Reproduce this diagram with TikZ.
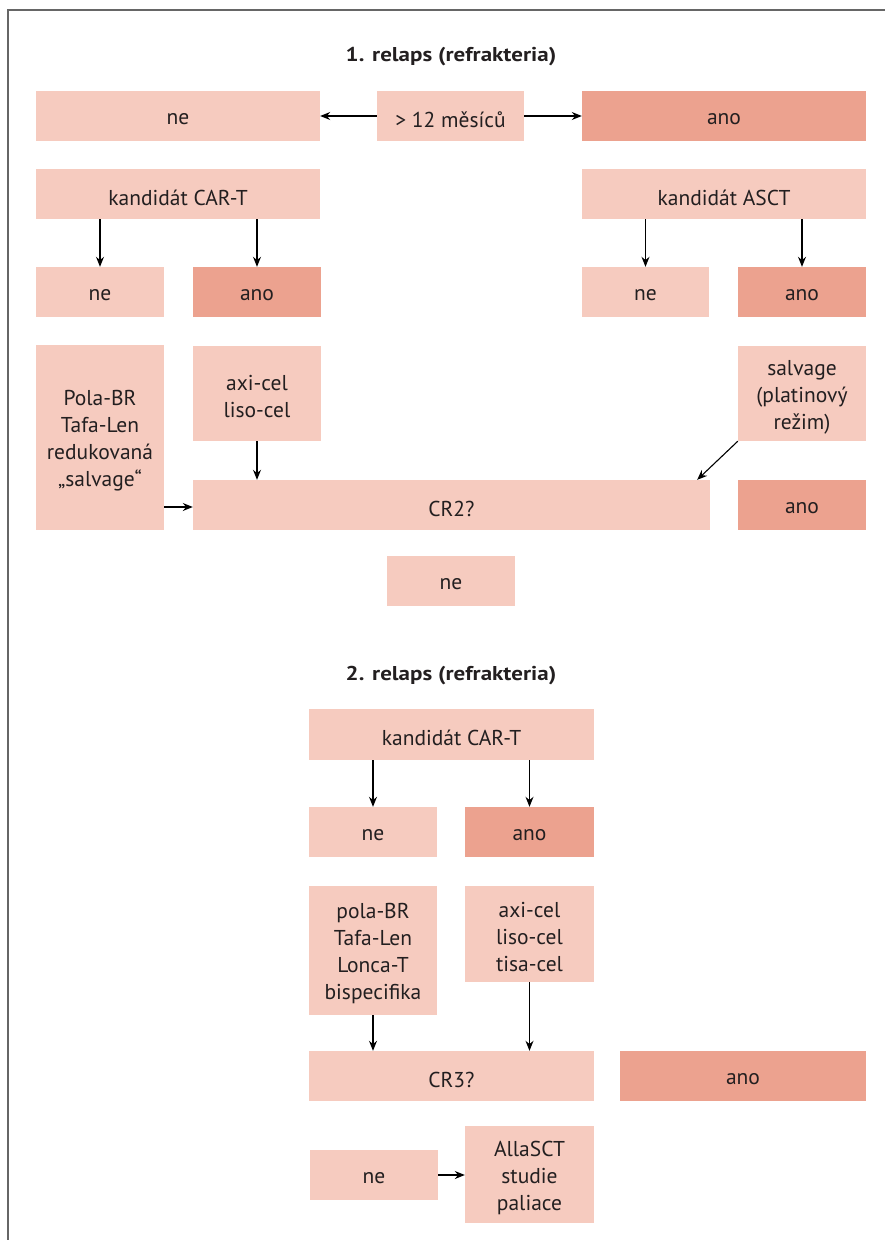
\documentclass[tikz,border=0pt]{standalone}
\usepackage{fontspec}
\setmainfont{PT Sans}
\newfontfamily\ttlfont[FakeStretch=1.15]{PT Sans Bold}
\usetikzlibrary{arrows.meta}
\definecolor{lt}{HTML}{F6CBBF}
\definecolor{dk}{HTML}{ECA28F}
\definecolor{tx}{HTML}{231F20}
\definecolor{fr}{HTML}{666666}
\tikzset{
  lb/.style={fill=lt,draw=none,inner sep=0pt},
  db/.style={lb,fill=dk},
  bt/.style={inner sep=0pt,align=center,text=tx,font=\fontsize{21.5}{27}\selectfont},
  ttl/.style={inner sep=0pt,text=tx,font=\fontsize{20}{24}\ttlfont},
  arr/.style={draw=black,line width=1.1pt,-{Stealth[length=10pt,width=8pt]}},
  frame/.style={draw=fr,line width=2pt}
}
\newcommand\bx[7]{%
  \node[#6,minimum width={#4-#2},minimum height={#5-#3}] (#1) at ({(#2+#4)/2},{(#3+#5)/2}) {};
  \node[bt] (#1t) at ([yshift=-3.5pt]#1.center) {#7};}
\begin{document}
\begin{tikzpicture}[x=1pt,y=-1pt]
\useasboundingbox (0,0) rectangle (885,1243);
\coordinate (ftl) at (8,10);
\coordinate (ftr) at (885,10);
\coordinate (fbl) at (8,1240);
\draw[frame] (ftr) -- (ftl) -- (fbl);
% section 1
\node[ttl] (t1) at (451,57) {1. relaps (refrakteria)};
\bx{ne1}{36}{91}{320}{141}{lb}{ne}
\bx{m12}{377}{91}{524}{141}{lb}{> 12 měsíců}
\bx{ano1}{582}{91}{866}{141}{db}{ano}
\bx{cart1}{36}{169}{320}{219}{lb}{kandidát CAR-T}
\bx{asct}{582}{169}{866}{219}{lb}{kandidát ASCT}
\bx{ne2}{36}{267}{164}{317}{lb}{ne}
\bx{ano2}{193}{267}{321}{317}{db}{ano}
\bx{ne3}{582}{267}{709}{317}{lb}{ne}
\bx{ano3}{738}{267}{866}{317}{db}{ano}
\bx{pola}{36}{345}{164}{530}{lb}{Pola-BR\\Tafa-Len\\redukovaná\\„salvage“}
\bx{axi1}{193}{346}{321}{441}{lb}{axi-cel\\liso-cel}
\bx{salv}{738}{346}{866}{441}{lb}{salvage\\(platinový\\režim)}
\bx{cr2}{193}{480}{710}{530}{lb}{CR2?}
\bx{ano4}{738}{480}{866}{530}{db}{ano}
\bx{ne4}{387}{556}{515}{606}{lb}{ne}
\draw[arr] (m12.west) -- (ne1.east);
\draw[arr] (m12.east) -- (ano1.west);
\draw[arr] (cart1.south -| ne2.north) -- (ne2.north);
\draw[arr] (cart1.south -| ano2.north) -- (ano2.north);
\draw[arr] (asct.south -| ne3.north) -- (ne3.north);
\draw[arr] (asct.south -| ano3.north) -- (ano3.north);
\draw[arr] (axi1.south) -- (axi1.south |- cr2.north);
\draw[arr] (salv.south west) -- ([xshift=-13pt]cr2.north east);
\draw[arr] (pola.east |- 0,507) -- (cr2.west |- 0,507);
% section 2
\node[ttl] (t2) at (451,676) {2. relaps (refrakteria)};
\bx{cart2}{309}{709}{594}{760}{lb}{kandidát CAR-T}
\bx{ne5}{309}{807}{437}{857}{lb}{ne}
\bx{ano5}{465}{807}{594}{857}{db}{ano}
\bx{pola2}{309}{886}{437}{1015}{lb}{pola-BR\\Tafa-Len\\Lonca-T\\bispecifika}
\bx{axi2}{465}{886}{594}{982}{lb}{axi-cel\\liso-cel\\tisa-cel}
\bx{cr3}{309}{1051}{594}{1101}{lb}{CR3?}
\bx{ano6}{620}{1051}{866}{1101}{db}{ano}
\bx{ne6}{310}{1150}{438}{1200}{lb}{ne}
\bx{allo}{465}{1126}{594}{1223}{lb}{AllaSCT\\studie\\paliace}
\draw[arr] (cart2.south -| ne5.north) -- (ne5.north);
\draw[arr] (cart2.south -| ano5.north) -- (ano5.north);
\draw[arr] (pola2.south) -- (pola2.south |- cr3.north);
\draw[arr] (axi2.south) -- (axi2.south |- cr3.north);
\draw[arr] (ne6.east) -- (allo.west |- ne6.east);
\end{tikzpicture}
\end{document}
